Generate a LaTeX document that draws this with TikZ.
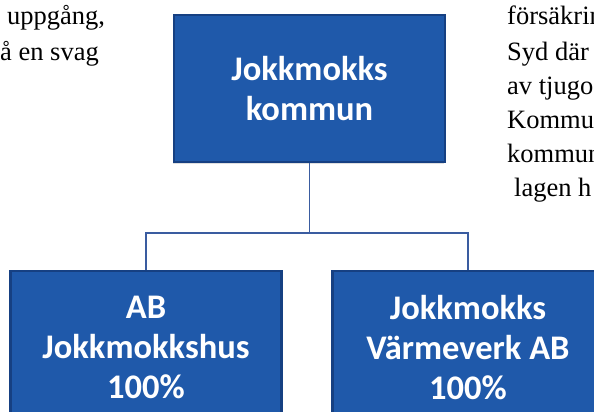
\documentclass[tikz,border=0pt]{standalone}
\usepackage{fontspec}
\setmainfont{Liberation Serif}
\newfontfamily\orgfont{Carlito}
\usepackage{tikz}
\usetikzlibrary{calc,shadows}
\definecolor{orgblue}{RGB}{31,89,170}
\definecolor{orgedge}{RGB}{22,64,130}
\definecolor{orgline}{RGB}{58,92,160}
\newcommand{\orgtxt}[1]{{\orgfont\bfseries #1}}
\newcommand{\bodytxt}[1]{{\fontsize{26.5}{34}\selectfont #1}}

\begin{document}
\begin{tikzpicture}[x=1pt,y=-1pt,
		orgbox/.style={draw=orgedge,line width=2.5pt,fill=orgblue,inner sep=0pt,
			minimum width=271pt,text=white,align=center,
			font=\fontsize{34.5}{40}\selectfont,
			drop shadow={opacity=0.25,shadow xshift=-1.5pt,shadow yshift=-1.5pt}},
		orgline/.style={draw=orgline,line width=1.9pt},
		bodyline/.style={anchor=base west,inner sep=0pt}]
		\clip (0,0) rectangle (594,412);
		%\draw[help lines,step=10] (0,0) grid (594,412);
		% surrounding text
		\node[bodyline] (L1) at (7,25) {\bodytxt{uppgång,}};
		\node[bodyline] (L2) at (0,60) {\bodytxt{å en svag}};
		\node[bodyline] (R1) at (507,25) {\bodytxt{försäkrin}};
		\node[bodyline] (R2) at (507,60) {\bodytxt{Syd där J}};
		\node[bodyline] (R3) at (507,94) {\bodytxt{av tjugo}};
		\node[bodyline] (R4) at (507,128) {\bodytxt{Kommu}};
		\node[bodyline] (R5) at (507,162) {\bodytxt{kommun}};
		\node[bodyline] (R6) at (514,196) {\bodytxt{lagen h}};
		% boxes
		\node[orgbox,minimum height=147pt] (K) at (309.5,88.5) {\orgtxt{Jokkmokks}\\\orgtxt{kommun}};
		\node[orgbox,minimum height=153pt] (H) at (146,347.5) {\orgtxt{AB}\\\orgtxt{Jokkmokkshus}\\\orgtxt{100\%}};
		\node[orgbox,minimum height=153pt] (V) at (468,347.5) {\orgtxt{Jokkmokks}\\\orgtxt{Värmeverk AB}\\\orgtxt{100\%}};
		% connectors
		\coordinate (M) at ($(K.south)+(0,70)$);
		\draw[orgline] (K.south) -- (M) -| (H.north);
		\draw[orgline] (M) -| (V.north);
	\end{tikzpicture}
\end{document}
